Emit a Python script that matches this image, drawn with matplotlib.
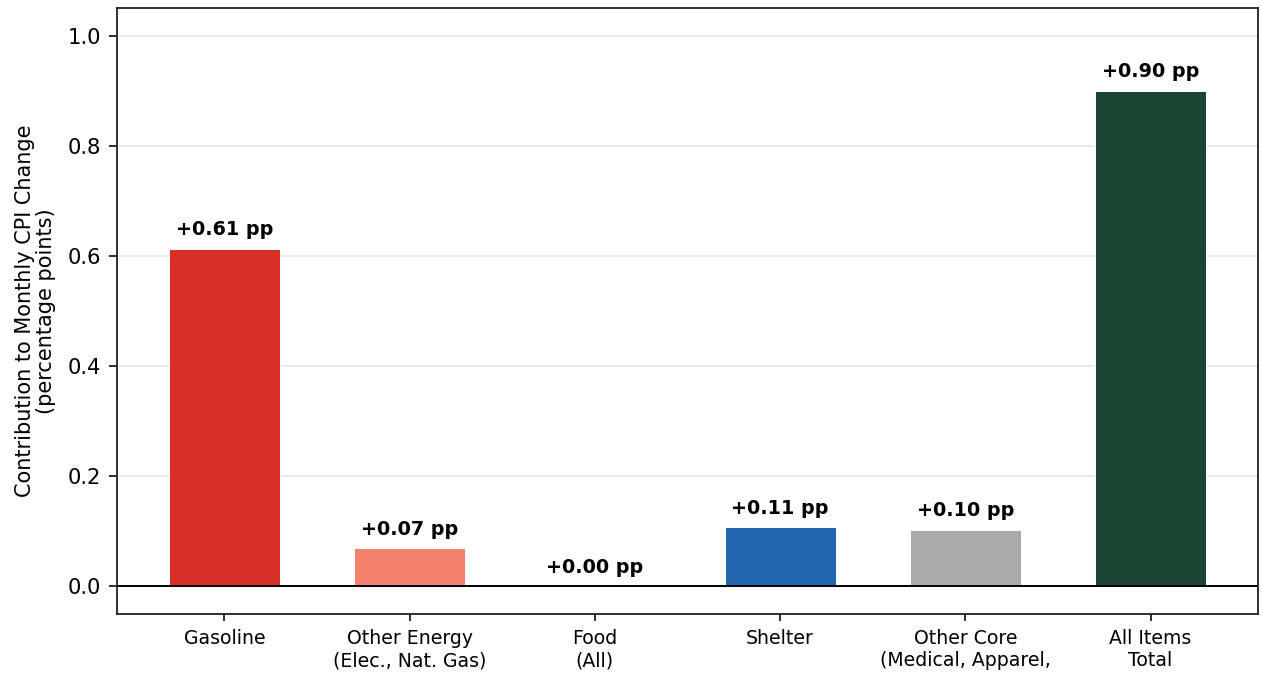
import matplotlib.pyplot as plt
import numpy as np

categories = ["Gasoline", "Other Energy\n(Elec., Nat. Gas)", "Food\n(All)", "Shelter",
              "Other Core\n(Medical, Apparel,", "All Items\nTotal"]
contributions = [0.613, 0.069, 0.0, 0.107, 0.103, 0.899]
labels = ["+0.61 pp", "+0.07 pp", "+0.00 pp", "+0.11 pp", "+0.10 pp", "+0.90 pp"]
colors = ["#d73027", "#f4826e", "#fdae61", "#2166ac", "#aaaaaa", "#1b4532"]

plt.rcParams.update({
    'xtick.major.size': 4.8, 'ytick.major.size': 5.8,
    'xtick.major.width': 1.15, 'ytick.major.width': 1.15,
    'xtick.major.pad': 6.2, 'ytick.major.pad': 5.8,
    'axes.linewidth': 1.3,
})

fig = plt.figure(figsize=(12.62, 6.73), dpi=100)
ax = fig.add_axes([0.0927, 0.0877, 0.9041, 0.9003])

x = np.arange(len(categories))
ax.bar(x, contributions, width=0.6, color=colors, edgecolor="white", linewidth=0.7)

# value labels above each bar
for xi, val, lab in zip(x, contributions, labels):
    ax.text(xi, val + 0.018, lab, ha="center", va="bottom", fontsize=13.8, fontweight="bold")

ax.axhline(0, color="black", linewidth=1.4)
ax.set_ylim(-0.05, 1.05)
ax.set_xticks(x)
ax.set_xticklabels(categories, fontsize=13.6)
ax.tick_params(axis="y", labelsize=15.2)
ax.set_ylabel("Contribution to Monthly CPI Change\n(percentage points)", fontsize=15,
              linespacing=1.1, labelpad=8)
ax.yaxis.grid(True, color="#e6e6e6", linewidth=1.2)
ax.set_axisbelow(True)
for sp in ax.spines.values():
    sp.set_color("#222222")

fig.savefig("out.png", dpi=100)
